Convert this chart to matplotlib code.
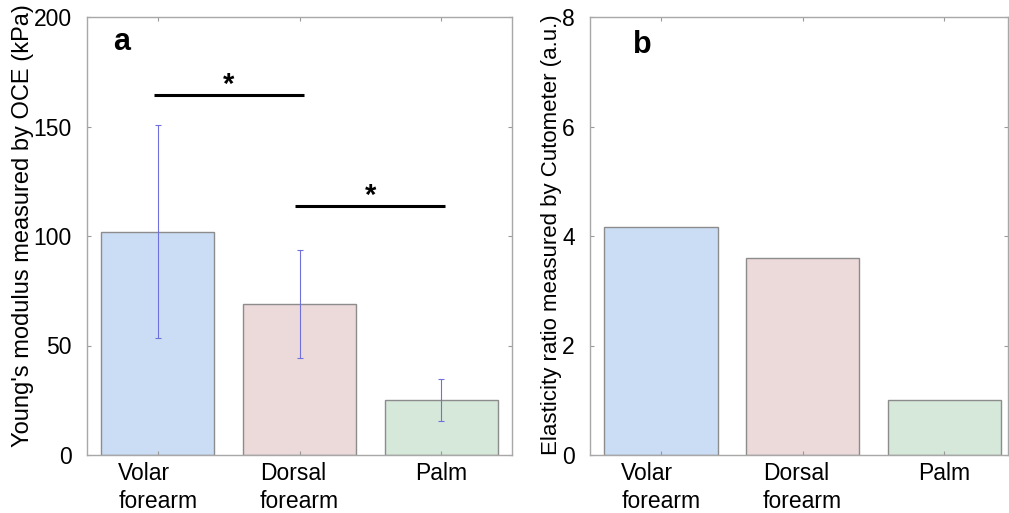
import matplotlib

matplotlib.use("Agg")
import matplotlib.pyplot as plt

plt.rcParams["font.family"] = ["Liberation Sans", "DejaVu Sans"]

# data
sites = ["Volar\nforearm", "Dorsal\nforearm", "Palm"]
oce_mean = [102, 69, 25.3]
oce_err = [48.5, 24.5, 9.6]
cuto_ratio = [4.16, 3.59, 1.0]
bar_colors = ["#cbddf4", "#ecd9da", "#d5e8d9"]

# significance brackets: (from bar, to bar, height in kPa)
sig_pairs = [(1, 2, 164.5), (2, 3, 113.7)]


def style_axes(ax, ylim, yticks):
    ax.set_ylim(*ylim)
    ax.set_yticks(yticks)
    ax.set_xticks([1, 2, 3])
    ax.set_xticklabels(sites, fontsize=16.5, linespacing=1.3)
    for t in ax.get_xticklabels():
        t.set_multialignment("left")
    ax.tick_params(
        axis="both",
        direction="in",
        length=3,
        width=0.8,
        color="#9a9a9a",
        top=True,
        right=True,
    )
    ax.tick_params(axis="x", labelsize=16.5, pad=5)
    ax.tick_params(axis="y", labelsize=16.5, pad=11)
    for s in ax.spines.values():
        s.set_color("#a8a8a8")
        s.set_linewidth(1.0)


fig = plt.figure(figsize=(10.09, 5.13), dpi=100)
W, H = 1009, 513

# panel a
ax1 = fig.add_axes([87 / W, (H - 455) / H, 425 / W, 438 / H])
x = [1, 2, 3]
ax1.bar(x, oce_mean, width=0.8, color=bar_colors, edgecolor="#8c8c8c", linewidth=1.0)
ax1.errorbar(
    x,
    oce_mean,
    yerr=oce_err,
    fmt="none",
    ecolor="#7070dd",
    elinewidth=0.8,
    capsize=2.5,
    capthick=0.8,
    zorder=3,
)
for a, b, h in sig_pairs:
    ax1.plot([a - 0.03, b + 0.03], [h, h], color="black", linewidth=2.2, solid_capstyle="butt")
    ax1.text((a + b) / 2, h + 1.0, "*", ha="center", va="baseline", fontsize=21, fontweight="bold")
ax1.set_xlim(0.5, 3.5)
style_axes(ax1, (0, 200), [0, 50, 100, 150, 200])
ax1.set_ylabel("Young's modulus measured by OCE (kPa)", fontsize=17)
ax1.yaxis.set_label_coords(-0.124, 0.524)
ax1.text(0.061, 0.925, "a", transform=ax1.transAxes, fontsize=22, fontweight="bold", va="baseline")

# panel b
ax2 = fig.add_axes([590 / W, (H - 455) / H, 418 / W, 438 / H])
ax2.bar(x, cuto_ratio, width=0.8, color=bar_colors, edgecolor="#8c8c8c", linewidth=1.0)
ax2.set_xlim(0.5, 3.45)
style_axes(ax2, (0, 8), [0, 2, 4, 6, 8])
ax2.set_ylabel("Elasticity ratio measured by Cutometer (a.u.)", fontsize=16)
ax2.yaxis.set_label_coords(-0.066, 0.502)
ax2.text(0.103, 0.918, "b", transform=ax2.transAxes, fontsize=22, fontweight="bold", va="baseline")

fig.savefig("out.png", dpi=100)
